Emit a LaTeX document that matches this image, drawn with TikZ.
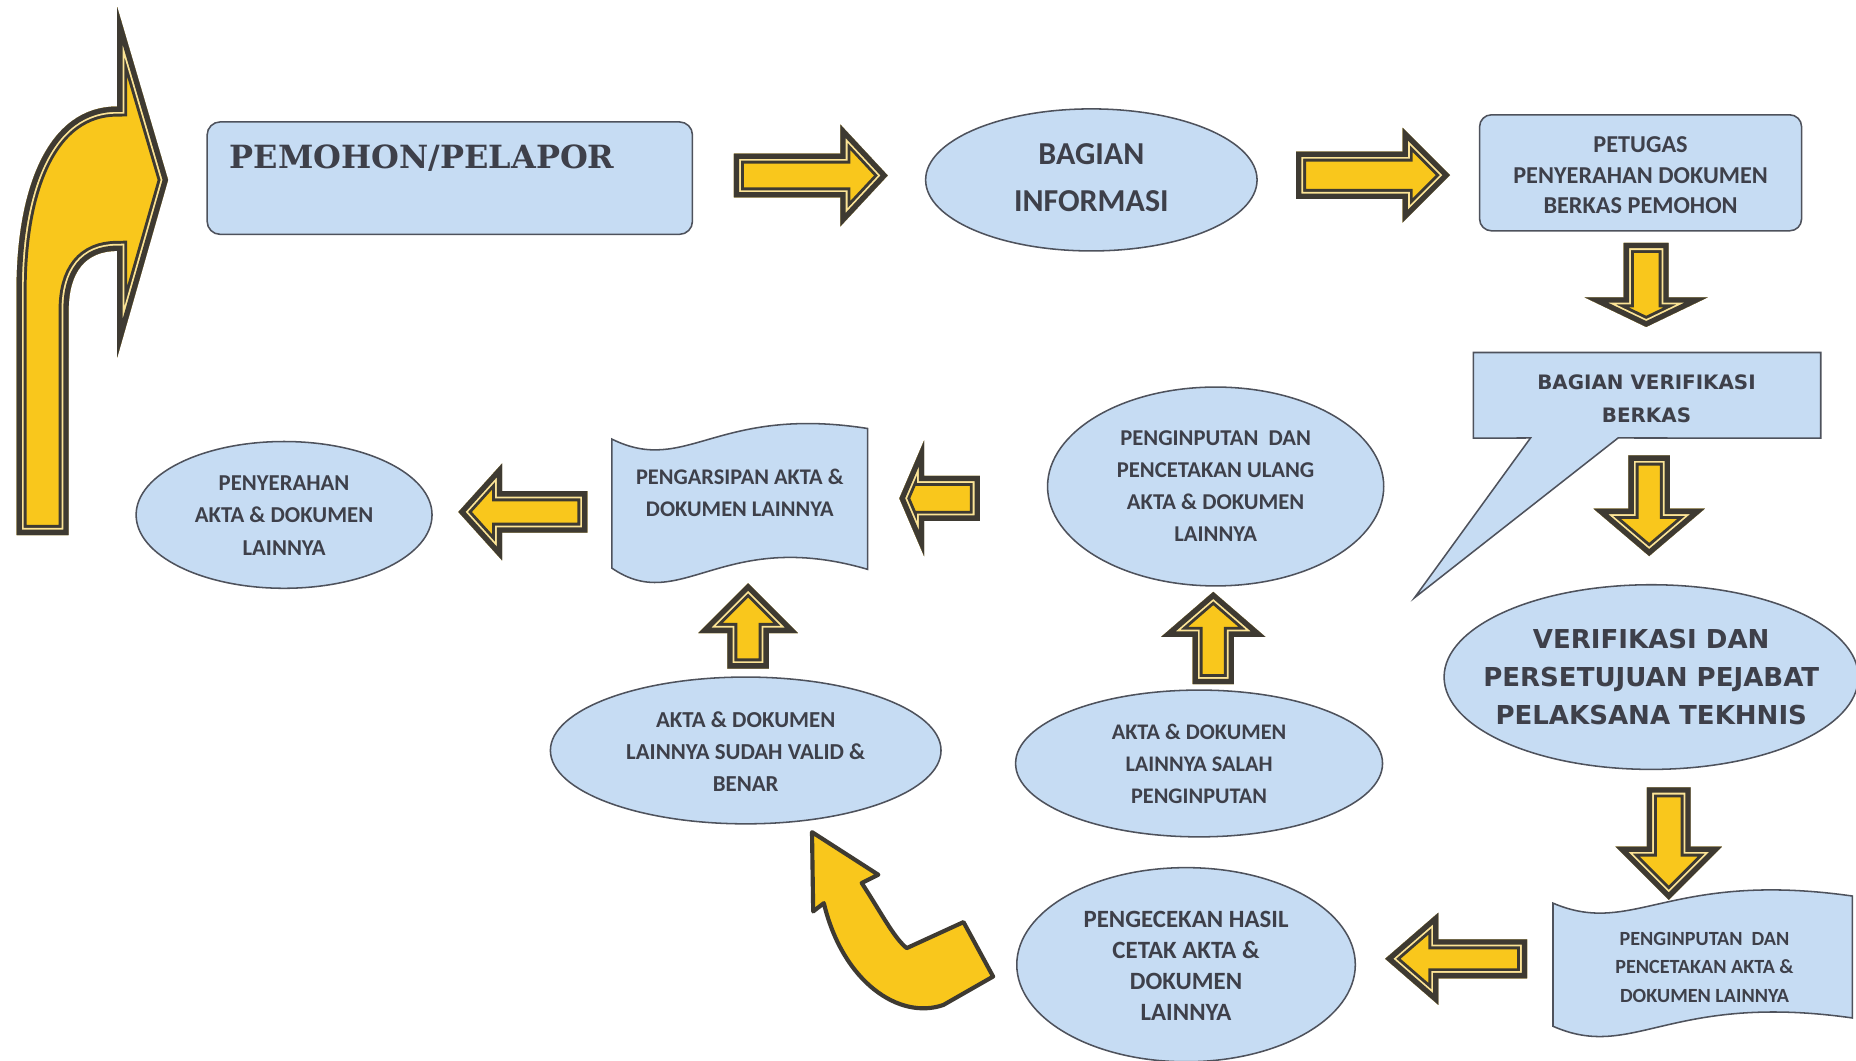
\documentclass[tikz,border=0pt]{standalone}
\usepackage{fontspec}
\setmainfont{Carlito}
\newfontfamily\widesans{DejaVu Sans}
\newfontfamily\slabserif{DejaVu Serif}
\usetikzlibrary{shapes.geometric,calc,backgrounds}

\definecolor{boxblue}{RGB}{198,220,243}
\definecolor{edgegray}{RGB}{78,82,92}
\definecolor{inkgray}{RGB}{62,64,74}
\definecolor{ayellow}{RGB}{249,199,28}
\definecolor{adark}{RGB}{62,58,50}
\definecolor{alight}{RGB}{252,228,150}

% outline of a straight block arrow pointing along +x, centred on the origin
% #1 length, #2 half shaft width, #3 half head width, #4 head length
\newcommand\barrowpath[4]{(-#1/2,-#2) -- (#1/2-#4,-#2) -- (#1/2-#4,-#3) -- (#1/2,0) -- (#1/2-#4,#3) -- (#1/2-#4,#2) -- (-#1/2,#2) -- cycle}

% yellow block with a dark border and a thin pale inner line, all drawn inside the outline
\newcommand\yellowblock[1]{%
  \begin{scope}
    \clip #1;
    \fill[ayellow] #1;
    \draw[adark, line width=17, line join=miter] #1;
    \draw[alight, line width=12, line join=miter] #1;
    \draw[adark, line width=9, line join=miter] #1;
  \end{scope}}

\begin{document}
\begin{tikzpicture}[x=1pt, y=-1pt,
  shapeline/.style={fill=boxblue, draw=edgegray, line width=1.3pt},
  oval/.style={shapeline, ellipse, inner sep=0pt},
  rbox/.style={shapeline, rectangle, rounded corners=11pt, inner sep=0pt},
  boxframe/.style={rectangle, inner sep=0pt},
  txt/.style={text=inkgray, align=center, inner sep=0pt},
  pics/barrow/.style n args={4}{code={\yellowblock{\barrowpath{#1}{#2}{#3}{#4}}}},
  outlinearrow/.style={fill=ayellow, draw=adark, line width=3.5pt, line join=round}
]
\useasboundingbox (0,0) rectangle (1568,896);

% ---- boxes and ovals with their texts
\node[rbox, minimum width=410, minimum height=95] (pemohon) at (380,150.5) {};
\node[txt, anchor=west, font=\slabserif\bfseries\fontsize{27}{30}\selectfont] (pemohon-t) at (194,134) {PEMOHON/PELAPOR};

\node[oval, minimum width=280, minimum height=120] (info) at (922,152) {};
\node[txt, font=\bfseries\fontsize{27}{40}\selectfont] (info-t) at (922,150) {BAGIAN\\INFORMASI};

\node[rbox, rounded corners=10pt, minimum width=272, minimum height=98] (petugas) at (1386,146) {};
\node[txt, font=\bfseries\fontsize{20.5}{26}\selectfont] (petugas-t) at (1386,148) {PETUGAS\\PENYERAHAN DOKUMEN\\BERKAS PEMOHON};

\node[boxframe, minimum width=293, minimum height=72] (berkas) at (1391.5,334) {};
\node[txt, font=\widesans\bfseries\fontsize{16.8}{28}\selectfont] (berkas-t) at (1391,337) {BAGIAN VERIFIKASI\\BERKAS};

\node[oval, minimum width=350, minimum height=156] (verif) at (1395,572) {};
\node[txt, font=\widesans\bfseries\fontsize{22}{32}\selectfont] (verif-t) at (1395,572) {VERIFIKASI DAN\\PERSETUJUAN PEJABAT\\PELAKSANA TEKHNIS};

\node[boxframe, minimum width=253, minimum height=124] (input) at (1438.5,814) {};
\node[txt, font=\bfseries\fontsize{17}{24}\selectfont] (input-t) at (1440,817) {PENGINPUTAN\ \ DAN\\PENCETAKAN AKTA \&\\DOKUMEN LAINNYA};

\node[oval, minimum width=286, minimum height=164] (cek) at (1002,815) {};
\node[txt, font=\bfseries\fontsize{21}{26}\selectfont] (cek-t) at (1002,816) {PENGECEKAN HASIL\\CETAK AKTA \&\\DOKUMEN\\LAINNYA};

\node[oval, minimum width=310, minimum height=124] (salah) at (1013,645) {};
\node[txt, font=\bfseries\fontsize{18.8}{27}\selectfont] (salah-t) at (1013,645) {AKTA \& DOKUMEN\\LAINNYA SALAH\\PENGINPUTAN};

\node[oval, minimum width=330, minimum height=124] (valid) at (630,634) {};
\node[txt, font=\bfseries\fontsize{19.3}{27}\selectfont] (valid-t) at (630,635) {AKTA \& DOKUMEN\\LAINNYA SUDAH VALID \&\\BENAR};

\node[oval, minimum width=284, minimum height=168] (ulang) at (1027,411) {};
\node[txt, font=\bfseries\fontsize{19.1}{27}\selectfont] (ulang-t) at (1027,410.5) {PENGINPUTAN\ \ DAN\\PENCETAKAN ULANG\\AKTA \& DOKUMEN\\LAINNYA};

\node[boxframe, minimum width=216, minimum height=139] (arsip) at (625,427.5) {};
\node[txt, font=\bfseries\fontsize{18.9}{27}\selectfont] (arsip-t) at (625,416.5) {PENGARSIPAN AKTA \&\\DOKUMEN LAINNYA};

\node[oval, minimum width=250, minimum height=124] (serah) at (240,435) {};
\node[txt, font=\bfseries\fontsize{19.2}{27.5}\selectfont] (serah-t) at (240,435.5) {PENYERAHAN\\AKTA \& DOKUMEN\\LAINNYA};

% ---- callout and wavy document shapes behind their texts
\begin{pgfonlayer}{background}
  \fill[white] (0,0) rectangle (1568,896);
  \draw[shapeline, line join=miter] (berkas.north west) -- (berkas.north east) -- (berkas.south east)
     -- (1367,370) -- (1195,505) -- (1293,370) -- (berkas.south west) -- cycle;
  \draw[shapeline] (517,371) .. controls (580,402) and (605,342) .. (733,362)
     -- (733,481) .. controls (610,445) and (575,520) .. (517,480) -- cycle;
  \draw[shapeline] (1312,763) .. controls (1380,792) and (1410,735) .. (1565,757)
     -- (1565,860) .. controls (1410,838) and (1380,897) .. (1312,867) -- cycle;
\end{pgfonlayer}

% ---- block arrows between the steps
\pic at ($(pemohon.east)!.5!(info.west)+(1.5,-3)$) {barrow={130}{18.5}{43}{40}};
\pic at ($(info.east)!.5!(petugas.west)+(4,-1)$) {barrow={130}{20}{40}{40}};
\pic[rotate=-90] at ($(petugas.south)!.5!(berkas.north)+(2,-6)$) {barrow={71}{19}{52}{25}};
\pic[rotate=-90] at ($(berkas.south)!.5!(verif.north)+(0,-4.5)$) {barrow={85}{17.5}{47}{40}};
\pic[rotate=-90] at ($(verif.south)!.5!(input.north)+(-7,11.5)$) {barrow={95}{18.5}{45}{45}};
\pic[rotate=180] at ($(input.west)!.5!(cek.east)+(1.5,-4.5)$) {barrow={120}{16.5}{39}{45}};
\pic[rotate=180] at ($(ulang.west)!.5!(arsip.east)+(-15,1.75)$) {barrow={68}{19}{49}{21}};
\pic[rotate=180] at ($(arsip.west)!.5!(serah.east)+(0.5,1.25)$) {barrow={109}{17.5}{41}{37}};
\pic[rotate=90] at ($(valid.north)!.5!(arsip.south)+(4.5,-5.5)$) {barrow={72}{17.5}{42}{42}};
\pic[rotate=90] at ($(salah.north)!.5!(ulang.south)+(5,0)$) {barrow={78}{17.5}{44}{38}};

% ---- return arrow from the last step back to the applicant
\yellowblock{(14,452) -- (14,245) .. controls (14,160) and (40,90) .. (99,90) -- (99,6) -- (142,152)
   -- (99,302) -- (99,212) .. controls (72,212) and (58,230) .. (58,262) -- (58,452) -- cycle}

% ---- bent arrow from the print check to the valid result
\draw[outlinearrow] (686,703) -- (742,739) -- (728,746) .. controls (745,772) and (755,792) .. (766,801)
   -- (814,779) -- (839,825) -- (797,849) .. controls (760,862) and (712,830) .. (696,763) -- (687,770) -- cycle;
\end{tikzpicture}
\end{document}
